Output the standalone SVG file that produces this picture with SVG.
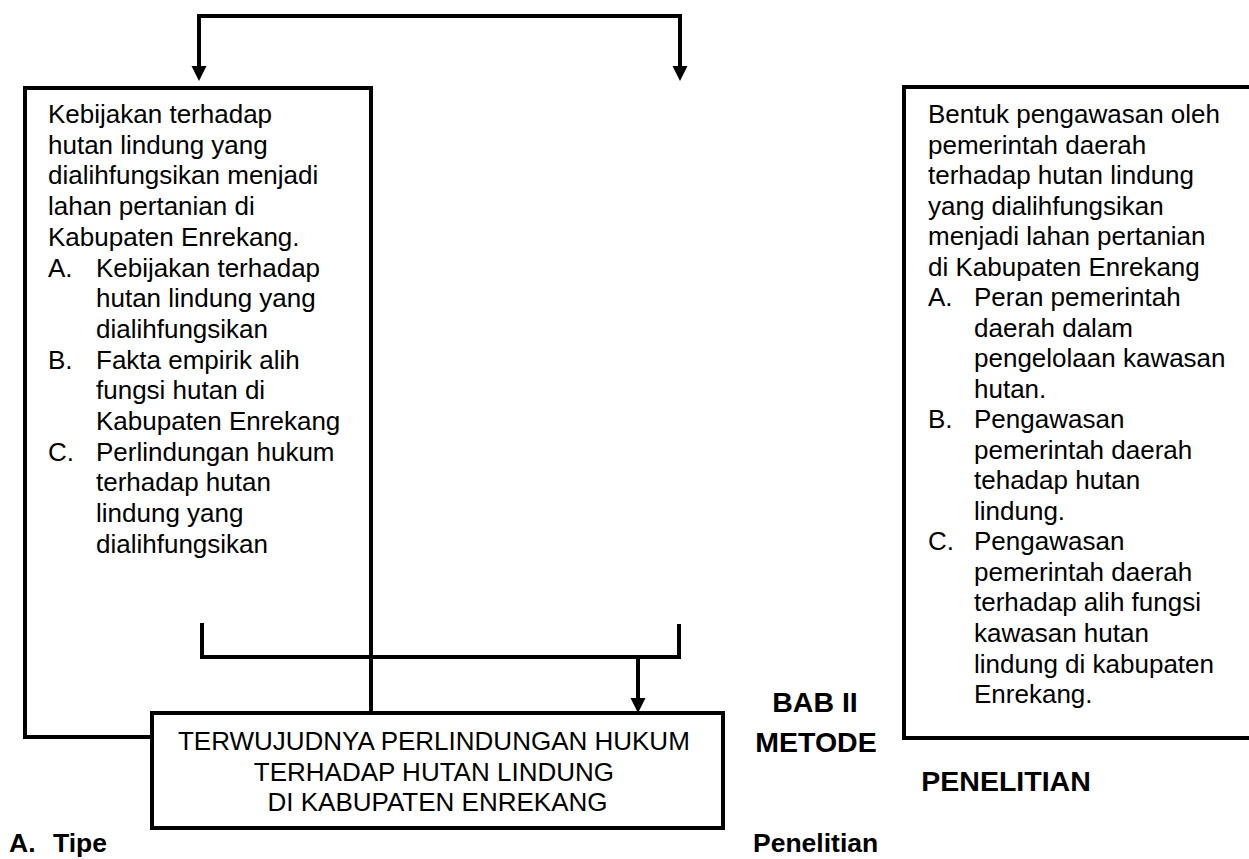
<svg xmlns="http://www.w3.org/2000/svg" width="1249" height="859" viewBox="0 0 1249 859">
  <style>
    .ln { fill: none; stroke: #000; stroke-width: 4; }
    .box { fill: #fff; stroke: #000; stroke-width: 4; }
    .t { font-family: "Liberation Sans", Arial, sans-serif; font-size: 26px; fill: #000; }
    .c { text-anchor: middle; }
    .h { font-family: "Liberation Sans", Arial, sans-serif; font-weight: bold; font-size: 28.5px; fill: #000; }
    .s { font-family: "Liberation Sans", Arial, sans-serif; font-weight: bold; font-size: 26.5px; fill: #000; }
  </style>
  <defs>
    <marker id="arr" markerUnits="userSpaceOnUse" markerWidth="16" markerHeight="16" refX="5" refY="7.5" orient="auto-start-reverse">
      <path d="M0,0 L15,7.5 L0,15 Z" fill="#000"/>
    </marker>
  </defs>
  <rect width="1249" height="859" fill="#fff"/>

  <g id="node-kebijakan">
    <path class="ln" d="M371,713 V88 H25 V737 H152"/>
    <text class="t">
      <tspan x="48" y="123">Kebijakan terhadap</tspan>
      <tspan x="48" y="153.7">hutan lindung yang</tspan>
      <tspan x="48" y="184.4">dialihfungsikan menjadi</tspan>
      <tspan x="48" y="215.1">lahan pertanian di</tspan>
      <tspan x="48" y="245.8">Kabupaten Enrekang.</tspan>
      <tspan x="48" y="276.5">A.</tspan><tspan x="96" y="276.5">Kebijakan terhadap</tspan>
      <tspan x="96" y="307.2">hutan lindung yang</tspan>
      <tspan x="96" y="337.9">dialihfungsikan</tspan>
      <tspan x="48" y="368.6">B.</tspan><tspan x="96" y="368.6">Fakta empirik alih</tspan>
      <tspan x="96" y="399.3">fungsi hutan di</tspan>
      <tspan x="96" y="430">Kabupaten Enrekang</tspan>
      <tspan x="48" y="460.7">C.</tspan><tspan x="96" y="460.7">Perlindungan hukum</tspan>
      <tspan x="96" y="491.4">terhadap hutan</tspan>
      <tspan x="96" y="522.1">lindung yang</tspan>
      <tspan x="96" y="552.8">dialihfungsikan</tspan>
    </text>
  </g>

  <g id="node-pengawasan">
    <rect class="box" x="904" y="87" width="360" height="651"/>
    <text class="t">
      <tspan x="928" y="123">Bentuk pengawasan oleh</tspan>
      <tspan x="928" y="153.5">pemerintah daerah</tspan>
      <tspan x="928" y="184">terhadap hutan lindung</tspan>
      <tspan x="928" y="214.6">yang dialihfungsikan</tspan>
      <tspan x="928" y="245.1">menjadi lahan pertanian</tspan>
      <tspan x="928" y="275.6">di Kabupaten Enrekang</tspan>
      <tspan x="928" y="306.2">A.</tspan><tspan x="974" y="306.2">Peran pemerintah</tspan>
      <tspan x="974" y="336.7">daerah dalam</tspan>
      <tspan x="974" y="367.2">pengelolaan kawasan</tspan>
      <tspan x="974" y="397.7">hutan.</tspan>
      <tspan x="928" y="428.3">B.</tspan><tspan x="974" y="428.3">Pengawasan</tspan>
      <tspan x="974" y="458.8">pemerintah daerah</tspan>
      <tspan x="974" y="489.3">tehadap hutan</tspan>
      <tspan x="974" y="519.8">lindung.</tspan>
      <tspan x="928" y="550.4">C.</tspan><tspan x="974" y="550.4">Pengawasan</tspan>
      <tspan x="974" y="580.9">pemerintah daerah</tspan>
      <tspan x="974" y="611.4">terhadap alih fungsi</tspan>
      <tspan x="974" y="641.9">kawasan hutan</tspan>
      <tspan x="974" y="672.5">lindung di kabupaten</tspan>
      <tspan x="974" y="703">Enrekang.</tspan>
    </text>
  </g>

  <g id="node-terwujudnya">
    <rect class="box" x="152" y="713" width="571" height="115"/>
    <text class="t c">
      <tspan x="437.5" y="750">TERWUJUDNYA PERLINDUNGAN HUKUM</tspan>
      <tspan x="437.5" y="780.5">TERHADAP HUTAN LINDUNG</tspan>
      <tspan x="437.5" y="811">DI KABUPATEN ENREKANG</tspan>
    </text>
  </g>

  <g id="connectors">
    <path class="ln" d="M199,71 V16 H680 V71" marker-start="url(#arr)" marker-end="url(#arr)"/>
    <path class="ln" d="M202,623 V657 H679 V624"/>
    <path class="ln" d="M638,657 V703" marker-end="url(#arr)"/>
  </g>

  <g id="labels">
    <text class="h c" x="815" y="712">BAB II</text>
    <text class="h c" x="816" y="752">METODE</text>
    <text class="h c" x="1006" y="791">PENELITIAN</text>
    <text class="s" x="753" y="852">Penelitian</text>
    <text class="s" x="9" y="852">A.</text>
    <text class="s" x="53" y="852">Tipe</text>
  </g>
</svg>
